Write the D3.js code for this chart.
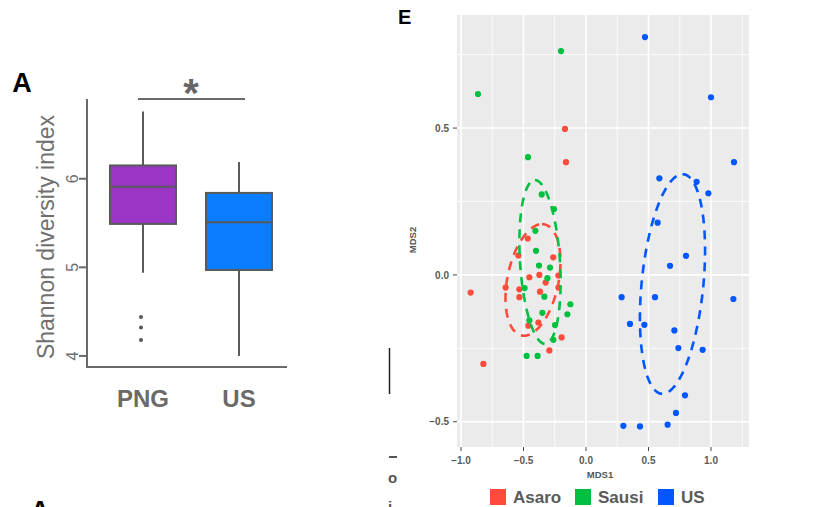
<!DOCTYPE html>
<html>
<head>
<meta charset="utf-8">
<script src="https://cdn.jsdelivr.net/npm/d3@7"></script>
<style>
  html, body { margin: 0; padding: 0; background: #fff; }
  svg { display: block; font-family: "Liberation Sans", Arial, Helvetica, sans-serif; }
</style>
</head>
<body>
<svg id="chart" width="836" height="507"></svg>
<script>
// ---- panel A: Shannon diversity (box plot) ----
const groups = ["PNG", "US"];
const boxQ1 = [5.49, 4.97];
const boxMedian = [5.91, 5.51];
const boxQ3 = [6.15, 5.84];
const whiskerLow = [4.94, 4.0];
const whiskerHigh = [6.76, 6.19];
const outliersPNG = [4.44, 4.32, 4.18];
const shannonTicks = [4, 5, 6];
const boxColors = ["#9a35c6", "#0a7dff"];

// ---- panel E: MDS ordination ----
const sites = ["Asaro", "Sausi", "US"];
const siteColors = ["#ff4b3c", "#00c040", "#0057ff"];
const asaroPoints = [
  [-0.168, 0.497], [-0.16, 0.384], [-0.466, 0.124], [-0.541, 0.066], [-0.262, 0.060],
  [-0.373, 0.0], [-0.453, -0.008], [-0.221, -0.002], [-0.323, -0.026], [-0.643, -0.043],
  [-0.533, -0.049], [-0.221, -0.043], [-0.923, -0.06], [-0.368, -0.057], [-0.533, -0.076],
  [-0.381, -0.162], [-0.461, -0.173], [-0.195, -0.213], [-0.293, -0.257], [-0.821, -0.303]
];
const sausiPoints = [
  [-0.864, 0.616], [-0.2, 0.762], [-0.464, 0.401], [-0.354, 0.274], [-0.256, 0.224],
  [-0.405, 0.150], [-0.4, 0.082], [-0.376, 0.032], [-0.288, 0.025], [-0.309, -0.011],
  [-0.491, -0.045], [-0.333, -0.074], [-0.125, -0.1], [-0.349, -0.129], [-0.149, -0.134],
  [-0.453, -0.155], [-0.248, -0.171], [-0.261, -0.221], [-0.475, -0.276], [-0.387, -0.276]
];
const usPoints = [
  [0.472, 0.81], [1.0, 0.605], [1.184, 0.384], [0.587, 0.329], [0.885, 0.317],
  [0.979, 0.278], [0.573, 0.178], [0.8, 0.065], [0.672, 0.031], [0.285, -0.076],
  [0.552, -0.076], [1.179, -0.082], [0.352, -0.167], [0.467, -0.170], [0.707, -0.189],
  [0.739, -0.249], [0.933, -0.255], [0.792, -0.410], [0.72, -0.470], [0.299, -0.514],
  [0.432, -0.516], [0.653, -0.510]
];
// ellipse per site: centre, half-axis to the top point, horizontal half-chord (conjugate)
const ellipseCenter = [[-0.424, -0.017], [-0.368, 0.044], [0.692, -0.031]];
const ellipseAxisU = [[0.072, 0.190], [-0.04, 0.279], [0.08, 0.374]];
const ellipseAxisV = [[0.208, 0], [0.16, 0], [0.248, 0]];
const mdsMajor = [-1.0, -0.5, 0.0, 0.5, 1.0];
const mdsMinorX = [-0.75, -0.25, 0.25, 0.75, 1.25];
const mdsMajorY = [-0.5, 0.0, 0.5];
const mdsMinorY = [-0.25, 0.25, 0.75];

const svg = d3.select("#chart");
svg.append("rect").attr("width", 836).attr("height", 507).attr("fill", "#fff");

// ================= panel A =================
const gA = svg.append("g");
const axisGray = "#6a6a6a";
const boxStroke = "#5a5a5a";

const xA = d3.scalePoint().domain(groups).range([95, 287]).padding(0.5);
const yA = d3.scaleLinear().domain([3.875, 6.9]).range([367, 99]);
const boxW = 66;

gA.append("text").attr("x", 22).attr("y", 92).attr("text-anchor", "middle")
  .attr("font-size", 27).attr("font-weight", "bold").attr("fill", "#000").text("A");

// axes
gA.append("line").attr("x1", 87).attr("x2", 87).attr("y1", yA.range()[1]).attr("y2", yA.range()[0] + 1)
  .attr("stroke", axisGray).attr("stroke-width", 2);
gA.append("line").attr("x1", 86).attr("x2", 287).attr("y1", yA.range()[0]).attr("y2", yA.range()[0])
  .attr("stroke", axisGray).attr("stroke-width", 2);

shannonTicks.forEach(t => {
  gA.append("line").attr("x1", 79).attr("x2", 87).attr("y1", yA(t)).attr("y2", yA(t))
    .attr("stroke", axisGray).attr("stroke-width", 2);
  gA.append("text")
    .attr("transform", `translate(${78},${yA(t)}) rotate(-90)`)
    .attr("text-anchor", "middle").attr("font-size", 16).attr("fill", "#6f6f6f").text(t);
});

gA.append("text")
  .attr("transform", `translate(${54},${237}) rotate(-90)`)
  .attr("text-anchor", "middle").attr("font-size", 23).attr("fill", "#707070")
  .text("Shannon diversity index");

// whiskers
groups.forEach((g, i) => {
  gA.append("line").attr("x1", xA(g)).attr("x2", xA(g))
    .attr("y1", yA(whiskerHigh[i])).attr("y2", yA(boxQ3[i]))
    .attr("stroke", boxStroke).attr("stroke-width", 2);
  gA.append("line").attr("x1", xA(g)).attr("x2", xA(g))
    .attr("y1", yA(boxQ1[i])).attr("y2", yA(whiskerLow[i]))
    .attr("stroke", boxStroke).attr("stroke-width", 2);
});

gA.selectAll(".box").data(groups).enter().append("rect")
  .attr("x", d => xA(d) - boxW / 2)
  .attr("y", (d, i) => yA(boxQ3[i]))
  .attr("width", boxW)
  .attr("height", (d, i) => yA(boxQ1[i]) - yA(boxQ3[i]))
  .attr("fill", (d, i) => boxColors[i])
  .attr("stroke", boxStroke).attr("stroke-width", 2);

gA.selectAll(".median").data(groups).enter().append("line")
  .attr("x1", d => xA(d) - boxW / 2).attr("x2", d => xA(d) + boxW / 2)
  .attr("y1", (d, i) => yA(boxMedian[i])).attr("y2", (d, i) => yA(boxMedian[i]))
  .attr("stroke", boxStroke).attr("stroke-width", 2);

gA.selectAll(".outlier").data(outliersPNG).enter().append("circle")
  .attr("cx", xA("PNG") - 2).attr("cy", d => yA(d)).attr("r", 2)
  .attr("fill", "#555");

gA.selectAll(".glabel").data(groups).enter().append("text")
  .attr("x", d => xA(d)).attr("y", 407)
  .attr("text-anchor", "middle").attr("font-size", 24).attr("font-weight", "bold")
  .attr("fill", "#6a6a6a").text(d => d);

// significance bar
gA.append("line").attr("x1", xA("PNG") - 5).attr("x2", xA("US") + 6)
  .attr("y1", 99).attr("y2", 99).attr("stroke", axisGray).attr("stroke-width", 2);
gA.append("text").attr("x", 191).attr("y", 107).attr("text-anchor", "middle")
  .attr("font-size", 40).attr("font-weight", "bold").attr("fill", "#666").text("*");

// ================= panel E =================
const gE = svg.append("g");
const x = d3.scaleLinear().domain([-1.032, 1.304]).range([457, 749]);
const y = d3.scaleLinear().domain([-0.586, 0.885]).range([447, 15]);

gE.append("text").attr("x", 398).attr("y", 24)
  .attr("font-size", 20).attr("font-weight", "bold").attr("fill", "#000").text("E");

gE.append("rect").attr("x", x.range()[0]).attr("y", y.range()[1])
  .attr("width", x.range()[1] - x.range()[0]).attr("height", y.range()[0] - y.range()[1])
  .attr("fill", "#ebebeb");

const grid = gE.append("g").attr("stroke", "#fff");
mdsMinorX.forEach(v => grid.append("line").attr("x1", x(v)).attr("x2", x(v))
  .attr("y1", y.range()[1]).attr("y2", y.range()[0]).attr("stroke-width", 0.8));
mdsMinorY.forEach(v => grid.append("line").attr("y1", y(v)).attr("y2", y(v))
  .attr("x1", x.range()[0]).attr("x2", x.range()[1]).attr("stroke-width", 0.8));
mdsMajor.forEach(v => grid.append("line").attr("x1", x(v)).attr("x2", x(v))
  .attr("y1", y.range()[1]).attr("y2", y.range()[0]).attr("stroke-width", 1.6));
mdsMajorY.forEach(v => grid.append("line").attr("y1", y(v)).attr("y2", y(v))
  .attr("x1", x.range()[0]).attr("x2", x.range()[1]).attr("stroke-width", 1.6));

// axes ticks + labels
const fmt = v => d3.format(".1f")(v).replace("-", "\u2212");
mdsMajor.forEach(v => {
  gE.append("line").attr("x1", x(v)).attr("x2", x(v)).attr("y1", 447).attr("y2", 451)
    .attr("stroke", "#444").attr("stroke-width", 1);
  gE.append("text").attr("x", x(v)).attr("y", 464).attr("text-anchor", "middle")
    .attr("font-size", 10).attr("font-weight", "bold").attr("fill", "#5a5a5a").text(fmt(v));
});
mdsMajorY.forEach(v => {
  gE.append("line").attr("x1", 453).attr("x2", 457).attr("y1", y(v)).attr("y2", y(v))
    .attr("stroke", "#444").attr("stroke-width", 1);
  gE.append("text").attr("x", 449).attr("y", y(v) + 3.6).attr("text-anchor", "end")
    .attr("font-size", 10).attr("font-weight", "bold").attr("fill", "#5a5a5a").text(fmt(v));
});
gE.append("text").attr("x", 600).attr("y", 478).attr("text-anchor", "middle")
  .attr("font-size", 9.5).attr("font-weight", "bold").attr("fill", "#555").text("MDS1");
gE.append("text").attr("transform", "translate(416,240) rotate(-90)").attr("text-anchor", "middle")
  .attr("font-size", 9.5).attr("font-weight", "bold").attr("fill", "#555").text("MDS2");

// points
const sitePoints = [asaroPoints, sausiPoints, usPoints];
sitePoints.forEach((pts, i) => {
  gE.append("g").selectAll("circle").data(pts).enter().append("circle")
    .attr("cx", d => x(d[0])).attr("cy", d => y(d[1])).attr("r", 3.1)
    .attr("fill", siteColors[i]);
});

// ellipses
const line = d3.line().x(d => x(d[0])).y(d => y(d[1]));
sites.forEach((s, i) => {
  const c = ellipseCenter[i], u = ellipseAxisU[i], v = ellipseAxisV[i];
  const pts = d3.range(0, 101).map(k => {
    const t = (k / 100) * 2 * Math.PI;
    return [c[0] + u[0] * Math.cos(t) + v[0] * Math.sin(t),
            c[1] + u[1] * Math.cos(t) + v[1] * Math.sin(t)];
  });
  gE.append("path").attr("d", line(pts)).attr("fill", "none")
    .attr("stroke", siteColors[i]).attr("stroke-width", 2.6)
    .attr("stroke-dasharray", "9,7");
});

// legend
const legendX = [490, 575, 658];
const legend = gE.append("g");
sites.forEach((s, i) => {
  legend.append("rect").attr("x", legendX[i]).attr("y", 489).attr("width", 16).attr("height", 16)
    .attr("fill", siteColors[i]);
  legend.append("text").attr("x", legendX[i] + 23).attr("y", 503)
    .attr("font-size", 17).attr("font-weight", "bold").attr("fill", "#5a5a5a").text(s);
});

// cropped fragments of the neighbouring figure
const frag = svg.append("g");
frag.append("line").attr("x1", 389.5).attr("x2", 389.5).attr("y1", 348).attr("y2", 394)
  .attr("stroke", "#222").attr("stroke-width", 1.5);
frag.append("line").attr("x1", 389).attr("x2", 397).attr("y1", 457).attr("y2", 457)
  .attr("stroke", "#555").attr("stroke-width", 2);
frag.append("text").attr("x", 388).attr("y", 483).attr("font-size", 15).attr("font-weight", "bold")
  .attr("fill", "#555").text("o");
frag.append("text").attr("x", 388).attr("y", 512).attr("font-size", 15).attr("font-weight", "bold")
  .attr("fill", "#555").text("i");
frag.append("text").attr("x", 40).attr("y", 520).attr("text-anchor", "middle")
  .attr("font-size", 27).attr("font-weight", "bold").attr("fill", "#000").text("A");
</script>
</body>
</html>
